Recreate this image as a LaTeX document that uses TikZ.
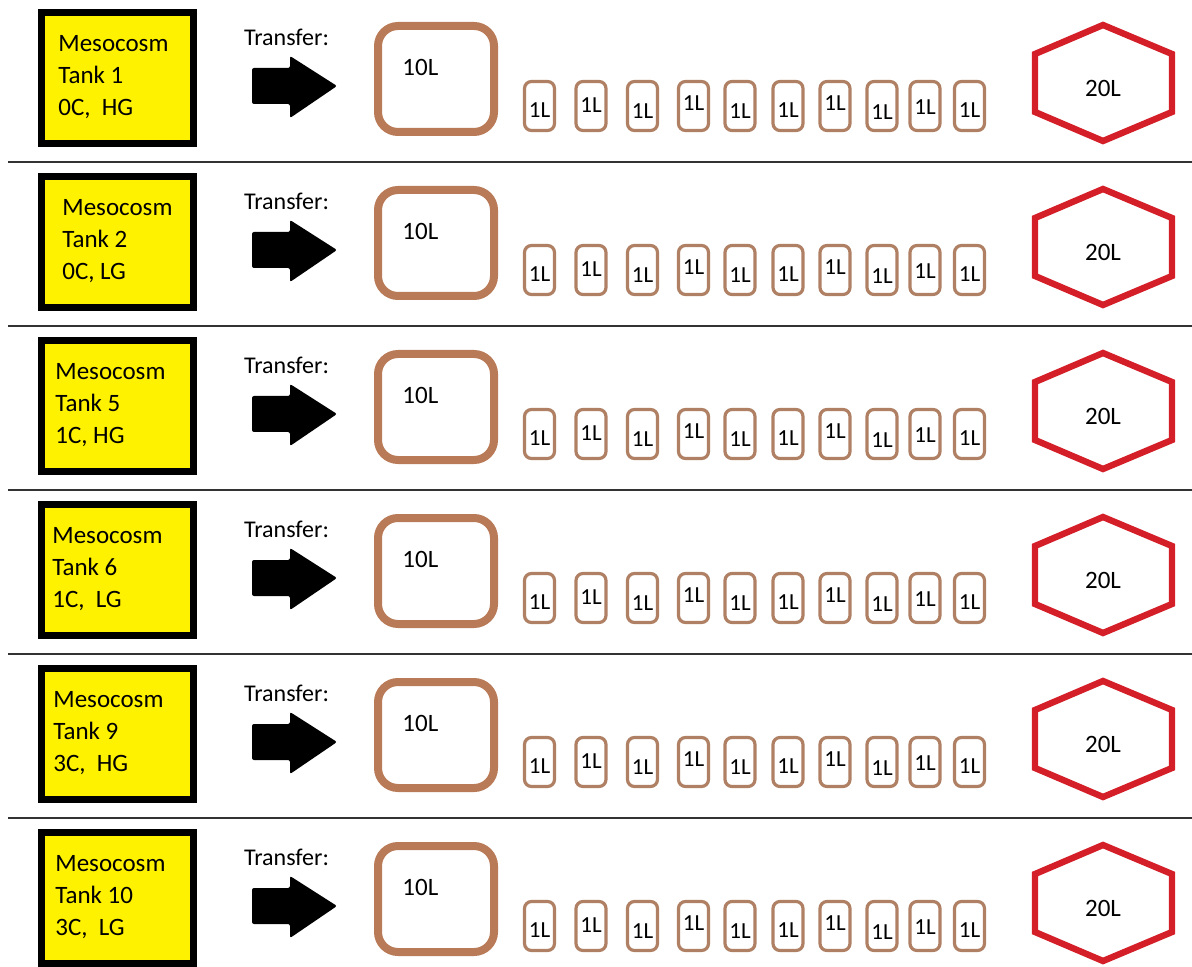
\documentclass[tikz,border=0pt]{standalone}
\usepackage{fontspec}
\setmainfont{Carlito}
\usetikzlibrary{positioning}
\definecolor{tankyellow}{RGB}{255,242,0}
\definecolor{jugbrown}{RGB}{185,122,87}
\definecolor{jarbrown}{RGB}{176,128,100}
\definecolor{carboyred}{RGB}{212,30,40}
\begin{document}
\begin{tikzpicture}[x=0.5pt, y=-0.5pt,
    tankbox/.style={draw=black, line width=3.5pt, fill=tankyellow, minimum width=76pt, minimum height=65.5pt, inner sep=0pt},
    tanktext/.style={align=left, anchor=west, inner sep=0pt, font=\fontsize{12.5}{15.8}\selectfont},
    transfer/.style={inner sep=0pt, font=\fontsize{12}{14}\selectfont},
    bigarrow/.style={fill=black, rounded corners=1pt},
    jug/.style={draw=jugbrown, line width=4pt, rounded corners=10pt, minimum width=58pt, minimum height=53pt, inner sep=0pt},
    jar/.style={draw=jarbrown, line width=1.6pt, rounded corners=3.5pt, minimum width=15pt, minimum height=24.5pt, inner sep=0pt},
    vol/.style={inner sep=0pt, font=\fontsize{12.5}{14}\selectfont},
    smallvol/.style={inner sep=0pt, font=\fontsize{11.5}{13}\selectfont},
    carboy/.style={draw=carboyred, line width=3.2pt},
    rowline/.style={draw=black!80, line width=1pt}]
  \useasboundingbox (0,0) rectangle (1192,967);
  % separators between the tanks
  \foreach \n in {0,...,4}
    \draw [rowline] (8, 162+\n*164) -- (1192, 162+\n*164);
  \foreach \n/\tank/\cond/\tx in {0/1/{0C,\ \ HG}/58, 1/2/{0C, LG}/62, 2/5/{1C, HG}/55,
                                  3/6/{1C,\ \ LG}/52, 4/9/{3C,\ \ HG}/53, 5/10/{3C,\ \ LG}/55} {
    \begin{scope}[shift={(0, \n*164)}]
      \node [tankbox] (tank\tank) at (117.5, 78) {};
      \node [tanktext] (tanklab\tank) at (\tx, 77) {Mesocosm\\Tank \tank\\\cond};
      \node [transfer] (transfer\tank) at (286.5, 37) {Transfer:};
      \fill [bigarrow] (252, 68) -- (290, 68) -- (290, 56) -- (337, 86) -- (290, 118) -- (290, 104) -- (252, 104) -- cycle;
      \node [jug] (jug\tank) at (436, 79) {};
      \node [vol, anchor=west] (juglab\tank) at (402, 67) {10L};
      \foreach \jx/\ty [count=\k] in {539.5/110, 591/105, 642.5/111, 693.5/103, 740/111,
                                      788/110, 835/103, 882/112, 925/107, 969.5/110} {
        \node [jar] (jar\tank-\k) at (\jx, 106) {};
        \node [smallvol] (jarlab\tank-\k) at (\jx, \ty) {1L};
      }
      \draw [carboy] (1103, 25) -- (1172, 54) -- (1172, 112) -- (1103, 141) -- (1035, 112) -- (1035, 54) -- cycle;
      \node [vol] (carboy\tank) at (1103, 88) {20L};
    \end{scope}
  }
\end{tikzpicture}
\end{document}
